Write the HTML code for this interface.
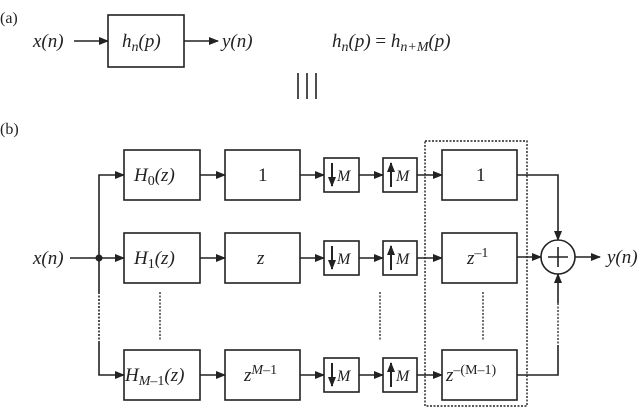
<!DOCTYPE html>
<html><head><style>
body{margin:0;background:#fff}
svg{display:block}
text{font-family:"Liberation Serif","DejaVu Serif",serif;fill:#222}
.i{font-style:italic}
</style></head><body>
<svg width="640" height="409" viewBox="0 0 640 409" xmlns="http://www.w3.org/2000/svg">
<defs>
<marker id="a" markerWidth="10" markerHeight="8" refX="9" refY="4" orient="auto" markerUnits="userSpaceOnUse">
<path d="M0,0 L10,4 L0,8 z" fill="#222"/></marker>
</defs>
<g stroke="#222" stroke-width="1.6" fill="none">
<rect x="108" y="15" width="76" height="52"/>
<line x1="74" y1="41" x2="108" y2="41" marker-end="url(#a)"/>
<line x1="184" y1="41" x2="218" y2="41" marker-end="url(#a)"/>
<line x1="298" y1="73" x2="298" y2="99"/><line x1="307" y1="73" x2="307" y2="99"/><line x1="316" y1="73" x2="316" y2="99"/>
<rect x="124" y="150" width="76" height="50"/><rect x="225" y="150" width="75" height="50"/>
<rect x="324" y="158" width="35" height="34"/><rect x="383" y="158" width="34" height="34"/>
<rect x="442" y="150" width="75" height="50"/>
<rect x="124" y="233" width="76" height="50"/><rect x="225" y="233" width="75" height="50"/>
<rect x="324" y="241" width="35" height="34"/><rect x="383" y="241" width="34" height="34"/>
<rect x="442" y="233" width="75" height="50"/>
<rect x="124" y="350" width="76" height="50"/><rect x="225" y="350" width="75" height="50"/>
<rect x="324" y="358" width="35" height="34"/><rect x="383" y="358" width="34" height="34"/>
<rect x="442" y="350" width="75" height="50"/>
<rect x="425" y="141" width="102" height="265" stroke-dasharray="2,1.5" stroke-width="1.4"/>
<line x1="70" y1="258" x2="124" y2="258" marker-end="url(#a)"/>
<polyline points="99,258 99,175 124,175" marker-end="url(#a)"/>
<line x1="99" y1="258" x2="99" y2="292"/>
<line x1="99" y1="292" x2="99" y2="342" stroke-dasharray="2,1.5"/>
<polyline points="99,342 99,375 124,375" marker-end="url(#a)"/>
<g>
<line x1="200" y1="175" x2="225" y2="175" marker-end="url(#a)"/>
<line x1="300" y1="175" x2="324" y2="175" marker-end="url(#a)"/>
<line x1="359" y1="175" x2="383" y2="175" marker-end="url(#a)"/>
<line x1="417" y1="175" x2="442" y2="175" marker-end="url(#a)"/>
<line x1="200" y1="258" x2="225" y2="258" marker-end="url(#a)"/>
<line x1="300" y1="258" x2="324" y2="258" marker-end="url(#a)"/>
<line x1="359" y1="258" x2="383" y2="258" marker-end="url(#a)"/>
<line x1="417" y1="258" x2="442" y2="258" marker-end="url(#a)"/>
<line x1="200" y1="375" x2="225" y2="375" marker-end="url(#a)"/>
<line x1="300" y1="375" x2="324" y2="375" marker-end="url(#a)"/>
<line x1="359" y1="375" x2="383" y2="375" marker-end="url(#a)"/>
<line x1="417" y1="375" x2="442" y2="375" marker-end="url(#a)"/>
</g>
<g stroke-dasharray="2,1.5" stroke-width="1.3">
<line x1="160" y1="292" x2="160" y2="340"/><line x1="380" y1="292" x2="380" y2="340"/>
<line x1="483" y1="292" x2="483" y2="340"/><line x1="558" y1="303" x2="558" y2="345"/>
</g>
<circle cx="558" cy="257" r="17"/>
<line x1="548" y1="257" x2="568" y2="257"/><line x1="558" y1="247" x2="558" y2="267"/>
<polyline points="517,175 558,175 558,240" marker-end="url(#a)"/>
<line x1="517" y1="257" x2="541" y2="257" marker-end="url(#a)"/>
<polyline points="517,375 558,375 558,345"/>
<line x1="558" y1="303" x2="558" y2="274" marker-end="url(#a)"/>
<line x1="575" y1="257" x2="600" y2="257" marker-end="url(#a)"/>
</g>
<circle cx="99" cy="258" r="3.5" fill="#222"/>
<g stroke="#222" stroke-width="2">
<line x1="332" y1="163" x2="332" y2="186" marker-end="url(#a)"/>
<line x1="332" y1="246" x2="332" y2="269" marker-end="url(#a)"/>
<line x1="332" y1="363" x2="332" y2="386" marker-end="url(#a)"/>
<line x1="391" y1="187" x2="391" y2="163" marker-end="url(#a)"/>
<line x1="391" y1="270" x2="391" y2="246" marker-end="url(#a)"/>
<line x1="391" y1="387" x2="391" y2="363" marker-end="url(#a)"/>
</g>
<g font-size="19">
<text x="0" y="23" font-size="16">(a)</text>
<text x="0" y="134" font-size="16">(b)</text>
<text x="33" y="47" class="i">x(n)</text>
<text x="122" y="47" class="i">h<tspan font-size="14" dy="4">n</tspan><tspan dy="-4">(p)</tspan></text>
<text x="222" y="47" class="i">y(n)</text>
<text x="332" y="47" class="i">h<tspan font-size="14" dy="4">n</tspan><tspan dy="-4">(p) </tspan><tspan font-style="normal">=</tspan> h<tspan font-size="14" dy="4">n+M</tspan><tspan dy="-4">(p)</tspan></text>
<text x="33" y="264" class="i">x(n)</text>
<text x="607" y="263" class="i">y(n)</text>
<text x="134" y="181" class="i">H<tspan font-size="14" dy="4" font-style="normal">0</tspan><tspan dy="-4">(z)</tspan></text>
<text x="134" y="264" class="i">H<tspan font-size="14" dy="4" font-style="normal">1</tspan><tspan dy="-4">(z)</tspan></text>
<text x="125" y="381" class="i">H<tspan font-size="14" dy="4">M</tspan><tspan font-size="14" font-style="normal">–1</tspan><tspan dy="-4">(z)</tspan></text>
<text x="258" y="181">1</text>
<text x="257" y="264" class="i">z</text>
<text x="244" y="381" class="i">z<tspan font-size="14" dy="-7">M</tspan><tspan font-size="14" font-style="normal">–1</tspan></text>
<text x="476" y="181">1</text>
<text x="467" y="264" class="i">z<tspan font-size="14" dy="-7" font-style="normal">–1</tspan></text>
<text x="446" y="381" class="i">z<tspan font-size="14" dy="-7" font-style="normal">–(M–1)</tspan></text>
<g font-size="16" class="i">
<text x="337" y="181">M</text><text x="337" y="264">M</text><text x="337" y="381">M</text>
<text x="396" y="181">M</text><text x="396" y="264">M</text><text x="396" y="381">M</text>
</g>
</g>
</svg>
</body></html>
